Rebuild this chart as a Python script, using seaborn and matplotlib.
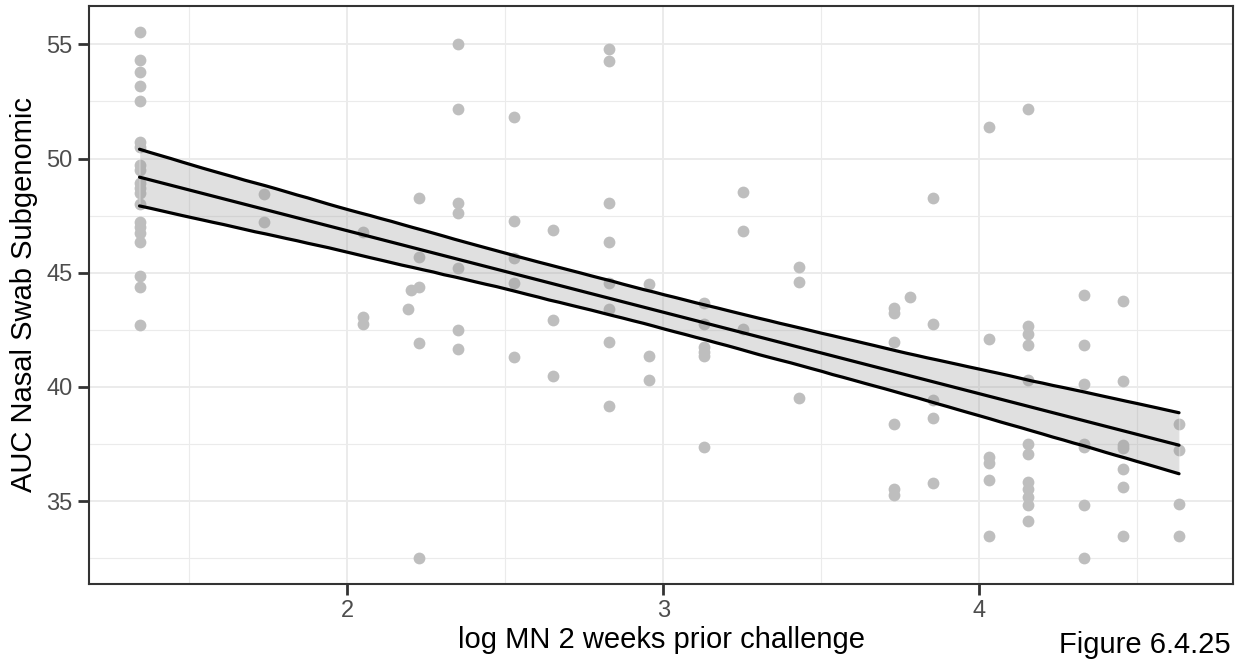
import numpy as np
import pandas as pd
import matplotlib
matplotlib.use("Agg")
import matplotlib.pyplot as plt
import seaborn as sns
from matplotlib.ticker import MultipleLocator

# log MN titre two weeks before challenge, one entry per animal
log_mn = (
    [1.342] * 20
    + [1.737] * 2
    + [2.05] * 3
    + [2.193, 2.20]
    + [2.226] * 5
    + [2.351] * 7
    + [2.527] * 5
    + [2.652] * 3
    + [2.828] * 8
    + [2.954] * 3
    + [3.13] * 6
    + [3.254] * 3
    + [3.43] * 3
    + [3.731] * 6
    + [3.78]
    + [3.855] * 5
    + [4.032] * 6
    + [4.156] * 12
    + [4.332] * 7
    + [4.457] * 7
    + [4.633] * 4
)

auc_sg = [
    # 1.342
    55.54, 54.31, 53.80, 53.16, 52.53, 50.74, 50.52, 49.70, 49.50, 48.92,
    48.70, 48.51, 48.00, 47.24, 47.02, 46.73, 46.33, 44.87, 44.39, 42.72,
    # 1.737
    48.44, 47.21,
    # 2.05
    46.80, 43.05, 42.75,
    # 2.193, 2.20
    43.43, 44.25,
    # 2.226
    48.26, 45.70, 44.37, 41.94, 32.50,
    # 2.351
    55.01, 52.17, 48.04, 47.63, 45.21, 42.50, 41.67,
    # 2.527
    51.83, 47.28, 45.63, 44.54, 41.33,
    # 2.652
    46.87, 42.92, 40.48,
    # 2.828
    54.78, 54.26, 48.04, 46.35, 44.54, 43.42, 41.98, 39.18,
    # 2.954
    44.50, 41.36, 40.29,
    # 3.13
    43.68, 42.77, 41.77, 41.55, 41.35, 37.39,
    # 3.254
    48.52, 46.83, 42.54,
    # 3.43
    45.27, 44.61, 39.51,
    # 3.731
    43.45, 43.23, 41.98, 38.37, 35.53, 35.25,
    # 3.78
    43.95,
    # 3.855
    48.27, 42.77, 39.45, 38.63, 35.79,
    # 4.032
    51.38, 42.12, 36.95, 36.69, 35.93, 33.48,
    # 4.156
    52.16, 42.68, 42.32, 41.84, 40.32, 37.51, 37.05, 35.82, 35.55, 35.20,
    34.84, 34.12,
    # 4.332
    44.03, 41.83, 40.15, 37.50, 37.39, 34.84, 32.50,
    # 4.457
    43.77, 40.27, 37.48, 37.35, 36.42, 35.63, 33.48,
    # 4.633
    38.40, 37.24, 34.87, 33.48,
]

x_label = "log MN 2 weeks prior challenge"
y_label = "AUC Nasal Swab Subgenomic"
caption = "Figure 6.4.25"

df = pd.DataFrame({"log_mn": log_mn, "auc": auc_sg})

sns.set_theme(style="white")
plt.rcParams["font.family"] = ["Liberation Sans", "DejaVu Sans"]

fig = plt.figure(figsize=(12.36, 6.61), dpi=100)
ax = fig.add_axes([0.072, 0.117, 0.9256, 0.874])

sns.regplot(
    data=df, x="log_mn", y="auc", ax=ax, ci=95, n_boot=2000, seed=7,
    scatter_kws={"color": "#bebebe", "s": 72, "linewidths": 0, "alpha": 1, "zorder": 3},
    line_kws={"color": "black", "lw": 2.3, "zorder": 5},
)

# ribbon: grey fill, black edges on both bounds
band = ax.collections[-1]
band.set_facecolor("#999999")
band.set_alpha(0.3)
band.set_zorder(4)
fit = ax.lines[0]
fx, fy = fit.get_xdata(), fit.get_ydata()
verts = band.get_paths()[0].vertices
above = verts[:, 1] > np.interp(verts[:, 0], fx, fy)
for mask in (above, ~above):
    pts = verts[mask]
    pts = pts[np.argsort(pts[:, 0])]
    ax.plot(pts[:, 0], pts[:, 1], color="black", lw=2.3, zorder=5)

ax.set_xlim(1.182, 4.804)
ax.set_ylim(31.39, 56.68)
ax.xaxis.set_major_locator(MultipleLocator(1))
ax.xaxis.set_minor_locator(MultipleLocator(0.5))
ax.yaxis.set_major_locator(MultipleLocator(5))
ax.yaxis.set_minor_locator(MultipleLocator(2.5))

ax.grid(which="major", color="#ebebeb", lw=1.4, zorder=0)
ax.grid(which="minor", color="#ebebeb", lw=0.8, zorder=0)
ax.set_axisbelow(True)

for sp in ax.spines.values():
    sp.set_color("#333333")
    sp.set_linewidth(1.5)

ax.tick_params(which="major", length=8, width=2, color="#333333",
               labelsize=17, labelcolor="#4d4d4d", pad=4,
               bottom=True, left=True)
ax.tick_params(which="minor", length=0)

ax.set_xlabel(x_label, fontsize=21, color="black", labelpad=3)
ax.set_ylabel(y_label, fontsize=21, color="black", labelpad=6)

# caption sits in the bottom-right corner, kept just inside the canvas
fig.text(1059 / 1236, 2 / 661, caption, fontsize=21, color="black",
         ha="left", va="bottom")

fig.savefig("out.png", dpi=100)
